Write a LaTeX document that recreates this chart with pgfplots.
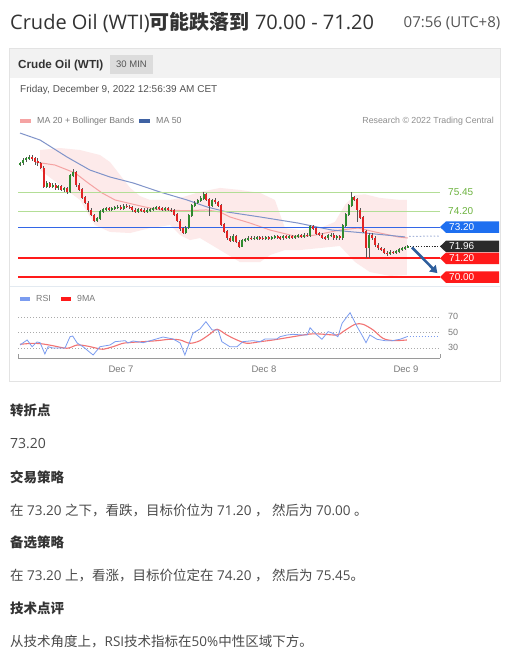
\documentclass[border=0pt]{standalone}
\usepackage{pgfplots}
\pgfplotsset{compat=1.18}
\usepackage{pgfplotstable}
\usetikzlibrary{arrows.meta}
\usepackage{fontspec}
\setmainfont{Open Sans}
\newfontfamily\cjk{Noto Sans CJK SC}
\newfontfamily\chartfont{Liberation Sans}

\definecolor{txt}{HTML}{333333}
\definecolor{bodytxt}{HTML}{4A4A4A}
\definecolor{timec}{HTML}{555555}
\definecolor{boxborder}{HTML}{E3E3E3}
\definecolor{headbg}{HTML}{F2F2F2}
\definecolor{minbg}{HTML}{DCDCDC}
\definecolor{lgray}{HTML}{7A7A7A}
\definecolor{lvlgreen}{HTML}{B3DE96}
\definecolor{lvlgreentxt}{HTML}{6CB33E}
\definecolor{lvlblue}{HTML}{3366E6}
\definecolor{boxblue}{HTML}{1E6FF0}
\definecolor{boxdark}{HTML}{2B2B2B}
\definecolor{lvlred}{HTML}{FF1A1A}
\definecolor{arrowblue}{HTML}{2E5E9C}
\definecolor{ma50}{HTML}{7F93C9}
\definecolor{ma50leg}{HTML}{3F62A3}
\definecolor{ma20}{HTML}{F5A3A3}
\definecolor{bandfill}{HTML}{FDEAEA}
\definecolor{upgreen}{HTML}{2F8A2F}
\definecolor{dnred}{HTML}{E02424}
\definecolor{wick}{HTML}{555555}
\definecolor{rsiblue}{HTML}{7B9CF0}
\definecolor{ma9}{HTML}{F05A5A}
\definecolor{gridc}{HTML}{AAAAAA}
\definecolor{axgray}{HTML}{9A9A9A}
\definecolor{divider}{HTML}{E3EAF1}

\pgfplotstableread{
i o h l c
0 77.20 77.40 77.10 77.30
1 77.30 77.60 77.20 77.50
2 77.50 77.70 77.40 77.60
3 77.60 77.80 77.50 77.70
4 77.70 77.80 77.45 77.60
5 77.60 77.70 77.20 77.40
6 77.40 77.60 77.10 77.30
7 77.30 77.40 76.90 77.00
8 77.00 77.10 75.70 75.80
9 75.80 76.15 75.70 76.00
10 76.00 76.10 75.70 75.80
11 75.80 76.00 75.70 75.90
12 75.90 76.00 75.60 75.70
13 75.70 75.90 75.55 75.80
14 75.80 75.90 75.50 75.60
15 75.60 75.80 75.45 75.70
16 75.70 75.80 75.30 75.50
17 75.50 76.60 75.40 76.50
18 76.50 76.90 76.40 76.70
19 76.70 76.80 75.80 75.90
20 75.90 76.00 75.50 75.60
21 75.60 75.70 75.00 75.10
22 75.10 75.20 74.65 74.75
23 74.75 74.85 74.20 74.30
24 74.30 74.40 73.88 73.98
25 73.98 74.05 73.50 73.60
26 73.60 73.85 73.50 73.75
27 73.75 74.30 73.65 74.20
28 74.20 74.45 74.10 74.35
29 74.35 74.50 74.25 74.40
30 74.40 74.50 74.25 74.35
31 74.35 74.50 74.25 74.40
32 74.40 74.55 74.30 74.45
33 74.45 74.60 74.35 74.50
34 74.50 74.60 74.30 74.40
35 74.40 74.65 74.30 74.55
36 74.55 74.65 74.40 74.50
37 74.50 74.60 74.35 74.45
38 74.45 74.55 74.20 74.30
39 74.30 74.40 74.10 74.20
40 74.20 74.45 74.10 74.35
41 74.35 74.45 74.20 74.30
42 74.30 74.40 74.10 74.20
43 74.20 74.40 74.10 74.30
44 74.30 74.45 74.20 74.35
45 74.35 74.50 74.25 74.40
46 74.40 74.55 74.30 74.45
47 74.45 74.55 74.30 74.40
48 74.40 74.50 74.25 74.35
49 74.35 74.50 74.25 74.40
50 74.40 74.50 74.20 74.30
51 74.30 74.40 74.15 74.25
52 74.25 74.35 73.90 74.00
53 74.00 74.10 73.50 73.60
54 73.60 73.70 72.95 73.10
55 73.10 73.20 72.75 72.85
56 72.85 73.25 72.75 73.15
57 73.15 74.05 73.05 73.95
58 73.95 74.70 73.85 74.60
59 74.60 74.85 74.50 74.75
60 74.75 75.00 74.65 74.90
61 74.90 75.20 74.80 75.05
62 75.05 75.45 74.95 75.30
63 75.30 75.40 74.85 74.95
64 74.95 75.05 73.90 74.60
65 74.60 75.00 74.50 74.90
66 74.90 75.05 74.70 74.80
67 74.80 74.90 74.50 74.60
68 74.60 74.70 73.25 73.35
69 73.35 73.45 72.80 72.90
70 72.90 73.00 72.40 72.50
71 72.50 72.60 72.25 72.35
72 72.35 72.75 72.25 72.60
73 72.60 72.70 72.15 72.25
74 72.25 72.35 71.85 71.95
75 71.95 72.45 71.90 72.35
76 72.35 72.50 72.25 72.40
77 72.40 72.60 72.30 72.50
78 72.50 72.60 72.35 72.45
79 72.45 72.60 72.35 72.50
80 72.50 72.65 72.40 72.55
81 72.55 72.65 72.40 72.50
82 72.50 72.60 72.35 72.45
83 72.45 72.65 72.35 72.55
84 72.55 72.65 72.40 72.50
85 72.50 72.65 72.40 72.55
86 72.55 72.70 72.45 72.60
87 72.60 72.70 72.45 72.55
88 72.55 72.65 72.40 72.50
89 72.50 72.70 72.40 72.60
90 72.60 72.70 72.45 72.55
91 72.55 72.70 72.45 72.60
92 72.60 72.70 72.45 72.55
93 72.55 72.70 72.45 72.60
94 72.60 72.75 72.50 72.65
95 72.65 72.75 72.50 72.60
96 72.60 72.80 72.50 72.70
97 72.70 72.80 72.55 72.65
98 72.65 73.35 72.55 73.25
99 73.25 73.35 73.00 73.10
100 73.10 73.20 72.70 72.80
101 72.80 72.90 72.60 72.70
102 72.70 72.80 72.45 72.55
103 72.55 72.65 72.40 72.50
104 72.50 72.75 72.40 72.65
105 72.65 72.80 72.55 72.70
106 72.70 72.80 72.40 72.50
107 72.50 72.70 72.40 72.60
108 72.60 72.70 72.40 72.50
109 72.50 73.40 72.40 73.30
110 73.30 74.10 73.20 74.00
111 74.00 74.70 73.90 74.60
112 74.60 75.45 74.50 75.10
113 75.10 75.20 74.85 74.95
114 74.95 75.05 73.50 74.30
115 74.30 74.40 73.70 73.80
116 73.80 73.90 72.80 72.90
117 72.90 73.00 71.22 71.90
118 71.90 72.80 71.22 72.70
119 72.70 72.80 72.40 72.50
120 72.50 72.60 71.95 72.05
121 72.05 72.15 71.75 71.85
122 71.85 71.95 71.65 71.75
123 71.75 71.85 71.45 71.55
124 71.55 71.65 71.35 71.50
125 71.50 71.70 71.40 71.60
126 71.60 71.70 71.45 71.55
127 71.55 71.75 71.45 71.65
128 71.65 71.85 71.55 71.75
129 71.75 71.95 71.65 71.85
130 71.85 72.00 71.75 71.90
131 71.90 72.05 71.85 71.96
}\candles

\newcommand{\pricebox}[3]{%
  \fill[#1] (axis cs:141.89,#2) -- ++(6pt,5.75pt) -- ++(53pt,0pt) -- ++(0pt,-11.5pt) -- ++(-53pt,0pt) -- cycle;
  \node[anchor=west, inner sep=0, text=white, font=\chartfont\fontsize{10}{12}\selectfont] at ([xshift=9pt]axis cs:141.89,#2) {#3};
}

\begin{document}
\begin{tikzpicture}[x=1pt,y=1pt]
\fill[white] (0,0) rectangle (521,657);

% page title
\node[anchor=base west, inner sep=0, text=txt, font=\fontsize{20}{24}\selectfont] at (10,627.5)
  {Crude Oil (WTI){\cjk\bfseries 可能跌落到} 70.00 - 71.20};
\node[anchor=base east, inner sep=0, text=timec, font=\fontsize{15}{18}\selectfont] at (500.5,629.5) {07:56 (UTC+8)};

% chart frame
\fill[headbg] (9.5,579) rectangle (500.5,608.5);
\draw[boxborder, line width=0.8pt] (9.5,276) rectangle (500.5,608.5);
\node[anchor=base west, inner sep=0, text=txt, font=\chartfont\bfseries\fontsize{11.7}{14}\selectfont] at (18,588.7) {Crude Oil (WTI)};
\fill[minbg] (110,583) rectangle (153,602);
\node[inner sep=0, text=timec, font=\chartfont\fontsize{9.5}{11}\selectfont] at (131.5,592.5) {30 MIN};
\node[anchor=base west, inner sep=0, text=txt!85, font=\chartfont\fontsize{10}{12}\selectfont] at (20,564.3) {Friday, December 9, 2022 12:56:39 AM CET};

% price legend
\fill[ma20] (20,534.3) rectangle (31,537.7);
\node[anchor=base west, inner sep=0, text=lgray, font=\chartfont\fontsize{8.8}{10}\selectfont] at (37,533) {MA 20 + Bollinger Bands};
\fill[ma50leg] (139,534.3) rectangle (150,537.7);
\node[anchor=base west, inner sep=0, text=lgray, font=\chartfont\fontsize{8.8}{10}\selectfont] at (156,533) {MA 50};
\node[anchor=base east, inner sep=0, text=lgray!85, font=\chartfont\fontsize{8.8}{10}\selectfont] at (494,533) {Research \textcopyright{} 2022 Trading Central};

% divider
\draw[divider, line width=0.8pt] (10,371) -- (500,371);

% RSI legend
\fill[rsiblue] (20,356.3) rectangle (30,359.7);
\node[anchor=base west, inner sep=0, text=lgray, font=\chartfont\fontsize{8.8}{10}\selectfont] at (36,355) {RSI};
\fill[lvlred] (61,356.3) rectangle (71,359.7);
\node[anchor=base west, inner sep=0, text=lgray, font=\chartfont\fontsize{8.8}{10}\selectfont] at (77,355) {9MA};

% ---------------- price axis ----------------
\begin{axis}[
  at={(18pt,372pt)}, anchor=south west, scale only axis,
  width=422pt, height=160pt,
  xmin=-0.68, xmax=141.89, ymin=69.488, ymax=79.745,
  axis lines=none, xtick=\empty, ytick=\empty, clip=false,
]
% Bollinger band
\addplot[fill=bandfill, draw=none, forget plot] coordinates {(6.8,78.14) (13.5,78.27) (20.3,78.14) (27,77.82) (30.4,77.37) (33.8,76.54) (37.2,75.71) (40.5,75.19) (43.9,74.94) (50.7,74.94) (54.1,75.07) (57.4,75.26) (60.8,75.45) (67.6,75.71) (74.3,75.58) (81.1,75.39) (86.1,74.94) (89.5,73.14) (94.6,73.01) (101.4,73.14) (106.4,73.53) (109.8,74.62) (113.2,75.26) (116.6,75.30) (121.6,75.07) (128.4,74.94) (130.7,74.94)
 (130.7,70.13) (125,70.07) (118.2,70.32) (113.2,70.96) (108.1,71.99) (101.4,71.86) (94.6,71.73) (89.5,71.73) (84.5,71.41) (81.1,70.96) (74.3,70.96) (67.6,71.73) (60.8,72.50) (57.4,72.37) (54.1,72.69) (50.7,73.33) (43.9,73.14) (37.2,72.82) (30.4,72.89) (25.3,73.33) (20.3,74.94) (13.5,75.90) (6.8,76.86)} -- cycle;

% MA20
\addplot[ma20, line width=1pt] coordinates {(5.1,77.37) (11.8,77.18) (18.6,76.67) (23,76.03) (27.7,75.39) (32.1,74.94) (36.5,74.74) (42.2,74.49) (47.3,74.30) (56.4,74.25) (63,74.30) (67.6,74.17) (70.9,73.85) (77.7,73.46) (84.5,73.01) (93.9,72.57) (99.7,72.69) (108.1,73.01) (114.2,73.14) (119.9,72.89) (127.7,72.57) (131,72.50)};
% MA50
\addplot[ma50, line width=1pt] coordinates {(0,79.23) (6.8,78.78) (15.9,77.69) (23.6,76.86) (30.4,76.41) (38.2,76.03) (47.3,75.45) (56.4,74.94) (63.2,74.49) (69.9,74.17) (81.1,73.85) (93.9,73.46) (105.4,73.01) (116.6,72.82) (130.1,72.57)};
\addplot[ma50!70, line width=1pt, dash pattern=on 1.5pt off 2pt] coordinates {(131.5,72.60) (141.89,72.63)};

% levels
\addplot[lvlgreen, line width=0.9pt] coordinates {(-0.68,75.45) (141.89,75.45)};
\addplot[lvlgreen, line width=0.9pt] coordinates {(-0.68,74.20) (141.89,74.20)};
\addplot[lvlblue, line width=1pt] coordinates {(-0.68,73.20) (141.89,73.20)};
\addplot[lvlred, line width=2pt] coordinates {(-0.68,71.20) (141.89,71.20)};
\addplot[lvlred, line width=2pt] coordinates {(-0.68,70.00) (141.89,70.00)};
\addplot[boxdark, line width=0.8pt, dash pattern=on 1.2pt off 1.5pt] coordinates {(131.8,71.96) (141.89,71.96)};

% candles: wicks
\addplot[draw=none, mark=none,
  error bars/.cd, y dir=both, y explicit, error mark=none,
  error bar style={draw=wick, line width=0.6pt}]
  table[x=i, y expr={(\thisrow{h}+\thisrow{l})/2}, y error expr={(\thisrow{h}-\thisrow{l})/2}] {\candles};
% up bodies
\addplot[draw=none, mark=none, restrict expr to domain={\thisrow{c}-\thisrow{o}}{0:10},
  error bars/.cd, y dir=both, y explicit, error mark=none,
  error bar style={draw=upgreen, line width=2pt}]
  table[x=i, y expr={(\thisrow{o}+\thisrow{c})/2}, y error expr={abs(\thisrow{c}-\thisrow{o})/2+0.02}] {\candles};
% down bodies
\addplot[draw=none, mark=none, restrict expr to domain={\thisrow{c}-\thisrow{o}}{-10:-0.001},
  error bars/.cd, y dir=both, y explicit, error mark=none,
  error bar style={draw=dnred, line width=2pt}]
  table[x=i, y expr={(\thisrow{o}+\thisrow{c})/2}, y error expr={abs(\thisrow{c}-\thisrow{o})/2+0.02}] {\candles};

% arrow
\addplot[arrowblue, line width=2.6pt, -{Triangle[length=7pt,width=9pt]}] coordinates {(132.4,71.90) (141.0,70.25)};

% right labels
\node[anchor=west, inner sep=0, text=lvlgreentxt, font=\chartfont\fontsize{10}{12}\selectfont] at (axis cs:144.6,75.45) {75.45};
\node[anchor=west, inner sep=0, text=lvlgreentxt, font=\chartfont\fontsize{10}{12}\selectfont] at (axis cs:144.6,74.20) {74.20};
\pricebox{boxblue}{73.20}{73.20}
\pricebox{boxdark}{71.96}{71.96}
\pricebox{lvlred}{71.20}{71.20}
\pricebox{lvlred}{70.00}{70.00}
\end{axis}

% ---------------- RSI axis ----------------
\begin{axis}[
  at={(18pt,299pt)}, anchor=south west, scale only axis,
  width=422pt, height=58pt,
  xmin=-0.68, xmax=141.89, ymin=16.84, ymax=91.68,
  clip=false,
  axis x line*=bottom, axis y line=none,
  x axis line style={draw=axgray, line width=0.9pt},
  xtick={34.1,82.4,130.4}, xticklabels={Dec 7,Dec 8,Dec 9},
  major tick length=0pt, xtick style={draw=none}, ytick=\empty,
  xticklabel style={font=\chartfont\fontsize{9.5}{11}\selectfont, text=lgray, anchor=base, yshift=-14.5pt},
]
\addplot[gridc, line width=0.6pt, dash pattern=on 0.8pt off 2.2pt] coordinates {(-0.68,70) (141.89,70)};
\addplot[gridc, line width=0.6pt, dash pattern=on 0.8pt off 2.2pt] coordinates {(-0.68,50) (141.89,50)};
\addplot[gridc, line width=0.6pt, dash pattern=on 0.8pt off 2.2pt] coordinates {(-0.68,30) (141.89,30)};

% 9MA
\addplot[ma9!85, line width=1.1pt, smooth, tension=0.5] coordinates {(0,34.5) (4.4,35.8) (7.8,34.9) (11.1,32.7) (15.9,29.4) (19.3,33.6) (22.6,32.3) (26,29.4) (28,28.1) (31.4,31.4) (34.8,35.8) (38.2,37.1) (41.6,37.9) (46.3,39.2) (50.7,41.0) (54.1,40.1) (57.4,35.8) (60.8,39.2) (64.2,47.8) (66.6,53.9) (69.9,46.5) (73.3,40.1) (76.7,35.8) (81.1,37.9) (85.5,40.1) (92.2,44.3) (98,47.8) (101.4,47.8) (107.1,46.5) (109.1,50.8) (113.2,60.3) (115.9,60.3) (119.3,53.0) (122.6,42.3) (126,39.2) (130.7,40.1)};
% RSI
\addplot[rsiblue, line width=0.8pt] coordinates {(0,33.6) (2.4,40.1) (4.1,31.4) (5.7,37.5) (6.8,36.6) (8.4,22.0) (9.5,31.4) (11.1,29.7) (15.2,29.7) (16.9,44.3) (17.8,45.2) (19.3,36.2) (21.3,31.4) (24.7,20.7) (27,31.4) (30.4,33.6) (32.1,37.9) (35.5,39.2) (36.5,36.2) (38.2,38.8) (41.6,36.6) (44.9,40.1) (48.3,43.9) (51.7,41.4) (54.1,36.2) (55.7,20.7) (58.4,48.7) (60.8,54.3) (62.8,63.7) (64.9,53.0) (66.9,53.0) (68.2,37.9) (70.9,31.4) (73.3,31.4) (75.3,37.9) (78.7,39.2) (81.1,37.9) (82.8,41.4) (86.8,41.4) (87.8,44.3) (90.2,46.5) (92.2,47.4) (95.6,46.5) (97,46.5) (98,55.9) (99.7,48.7) (102,41.0) (104.1,50.8) (105.7,48.7) (107.4,44.3) (108.8,61.6) (111.5,75.3) (113.9,57.2) (115.5,46.5) (116.9,36.6) (118.2,46.5) (120.6,41.0) (123.3,39.2) (125.7,39.2) (128.4,41.0) (130.7,44.3)};
\addplot[rsiblue, line width=0.8pt, dash pattern=on 1.2pt off 1.8pt] coordinates {(130.7,44.3) (141.5,44.3)};

\node[anchor=west, inner sep=0, text=lgray, font=\chartfont\fontsize{9}{11}\selectfont] at (axis cs:144.6,70) {70};
\node[anchor=west, inner sep=0, text=lgray, font=\chartfont\fontsize{9}{11}\selectfont] at (axis cs:144.6,50) {50};
\node[anchor=west, inner sep=0, text=lgray, font=\chartfont\fontsize{9}{11}\selectfont] at (axis cs:144.6,30) {30};
\draw[axgray, line width=0.9pt] (rel axis cs:0,0) -- ++(0pt,4pt);
\draw[axgray, line width=0.9pt] (rel axis cs:1,0) -- ++(0pt,4pt);
\end{axis}

% ---------------- text below ----------------
\begin{scope}[every node/.style={anchor=base west, inner sep=0}]
\node[text=txt, font=\cjk\bfseries\fontsize{13.5}{16}\selectfont] at (10,241) {转折点};
\node[text=bodytxt, font=\fontsize{14}{16}\selectfont] at (10,208) {73.20};
\node[text=txt, font=\cjk\bfseries\fontsize{13.5}{16}\selectfont] at (10,174.5) {交易策略};
\node[text=bodytxt, font=\fontsize{13.5}{16}\selectfont] at (10,141.5) {{\cjk 在} 73.20 {\cjk 之下，看跌，目标价位为} 71.20 {\cjk ，} {\cjk 然后为} 70.00 {\cjk 。}};
\node[text=txt, font=\cjk\bfseries\fontsize{13.5}{16}\selectfont] at (10,109) {备选策略};
\node[text=bodytxt, font=\fontsize{13.5}{16}\selectfont] at (10,76) {{\cjk 在} 73.20 {\cjk 上，看涨，目标价位定在} 74.20 {\cjk ，} {\cjk 然后为} 75.45{\cjk 。}};
\node[text=txt, font=\cjk\bfseries\fontsize{13.5}{16}\selectfont] at (10,43) {技术点评};
\node[text=bodytxt, font=\fontsize{13.5}{16}\selectfont] at (10,10) {{\cjk 从技术角度上，}RSI{\cjk 技术指标在}50\%{\cjk 中性区域下方。}};
\end{scope}
\pgfresetboundingbox
\path[use as bounding box] (0,0) rectangle (521,657);
\end{tikzpicture}
\end{document}
